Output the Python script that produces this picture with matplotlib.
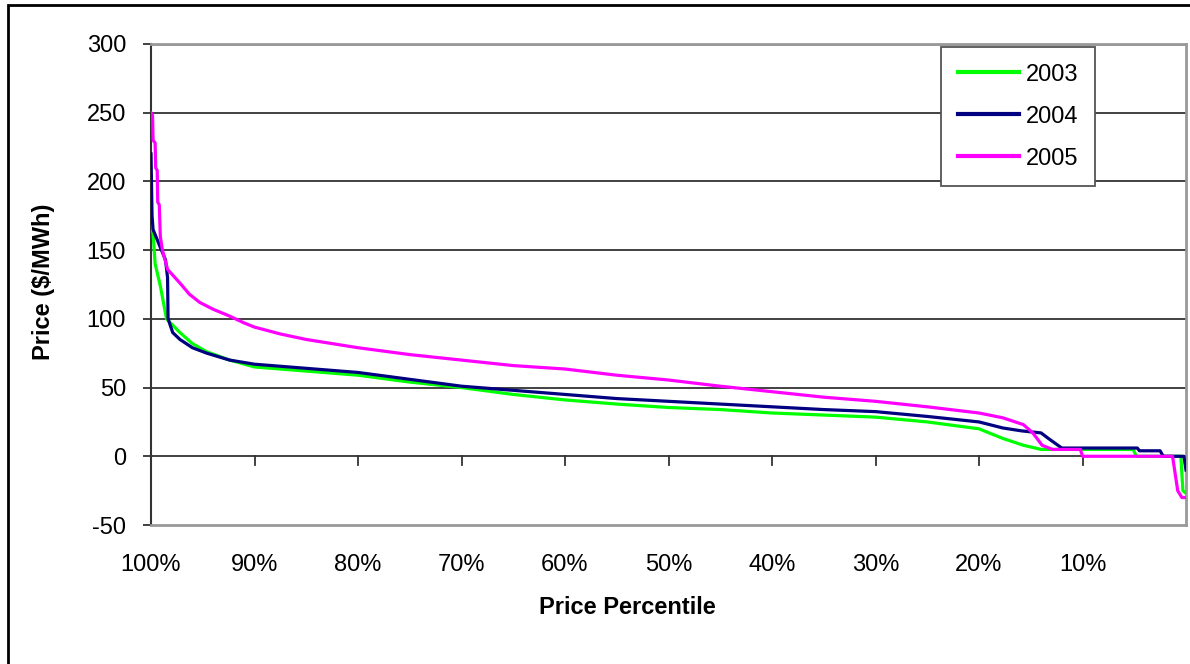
import matplotlib

matplotlib.use("Agg")
import matplotlib.pyplot as plt  # noqa: E402
from matplotlib.patches import Rectangle  # noqa: E402

plt.rcParams["font.family"] = ["Liberation Sans", "DejaVu Sans"]
plt.rcParams["axes.unicode_minus"] = False

# Price duration curves (percentile -> $/MWh)
pct_2003 = [100, 99.8, 99.6, 99.1, 98.9, 98.5, 97.2, 96, 94.6, 92.4, 90, 85, 80, 75,
            70, 65, 60, 55, 50, 45, 40, 35, 30, 25, 20, 17.7, 15.7, 14, 10, 5.1, 4.8,
            0.5, 0.3, 0]
price_2003 = [170, 162, 140, 124, 116, 100, 90, 82, 76, 70, 65, 62, 59, 54,
              50, 45, 41, 38, 35.5, 34, 31.5, 30, 28.5, 25, 20, 13, 8, 5, 5, 5, 0,
              0, -25, -27]

pct_2004 = [100, 99.9, 99.8, 99.1, 98.6, 98.4, 98.35, 97.9, 97.2, 96, 94.6, 92.4, 90,
            85, 80, 75, 70, 65, 60, 55, 50, 45, 40, 35, 30, 25, 20, 17.7, 15.9, 14.0,
            13.3, 12.0, 4.7, 4.5, 2.5, 2.2, 0.2, 0]
price_2004 = [220, 175, 165, 152, 143, 130, 100, 90, 85, 79, 75, 70, 67,
              64, 61, 56, 51, 48, 45, 42, 40, 38, 36, 34, 32.5, 29, 25, 20.6, 18.5, 17,
              13, 6, 6, 4, 4, 0, 0, -10]

pct_2005 = [100, 99.85, 99.8, 99.6, 99.55, 99.4, 99.35, 99.2, 99.1, 98.9, 98.4, 97.8,
            97.2, 96.3, 95.3, 94, 92.4, 91, 90, 87.5, 85, 80, 75, 70, 65, 60, 55, 50,
            45, 40, 35, 30, 25, 20, 17.7, 15.7, 14.8, 13.9, 12.9, 10.2, 10, 1.3, 0.8,
            0.4, 0]
price_2005 = [250, 248, 230, 228, 210, 208, 185, 183, 160, 150, 136, 131,
              126, 118, 112, 107, 102, 97, 94, 89, 85, 79, 74, 70, 66, 63.5, 59, 55.5,
              51, 47, 43, 40, 36, 31.5, 28, 23, 17, 8, 5, 5, 0, 0, -25,
              -30, -30]

series = [("2003", pct_2003, price_2003, "#00ff00"),
          ("2004", pct_2004, price_2004, "#000080"),
          ("2005", pct_2005, price_2005, "#ff00ff")]

x_ticks = [100, 90, 80, 70, 60, 50, 40, 30, 20, 10]
x_tick_labels = ["100%", "90%", "80%", "70%", "60%", "50%", "40%", "30%", "20%", "10%"]
y_ticks = [-50, 0, 50, 100, 150, 200, 250, 300]

W, H = 1190, 664
fig = plt.figure(figsize=(W / 100, H / 100), dpi=100)
ax = fig.add_axes([151 / W, 1 - 525 / H, (1186 - 151) / W, (525 - 44) / H])

for name, pct, price, color in series:
    ax.plot(pct, price, color=color, lw=2.3, label=name, zorder=3)

ax.set_xlim(100, 0)
ax.set_ylim(-50, 300)

# horizontal gridlines, the zero line doubles as the category axis
for y in y_ticks[1:-1]:
    ax.axhline(y, color="#333333", lw=1.3, zorder=1)
ax.axhline(300, color="#999999", lw=2, zorder=1)

# x tick marks hang down from the zero line, labels sit below the plot
ax.set_xticks(x_ticks)
ax.set_xticklabels(x_tick_labels, fontsize=17)
ax.tick_params(axis="x", length=0, pad=21)
for t in x_ticks + [0]:
    ax.plot([t, t], [0, -6], color="#333333", lw=1.3, zorder=1, clip_on=False)

ax.set_yticks(y_ticks)
ax.tick_params(axis="y", labelsize=17, length=6, width=1.3, color="#333333", pad=12)

for side in ["top", "right", "bottom"]:
    ax.spines[side].set_color("#999999")
    ax.spines[side].set_linewidth(2)
ax.spines["left"].set_color("#333333")
ax.spines["left"].set_linewidth(1.5)

leg = ax.legend(loc="upper right", bbox_to_anchor=(1095 / W, 1 - 47 / H),
                bbox_transform=fig.transFigure, fontsize=17, frameon=True,
                fancybox=False, edgecolor="#555555", framealpha=1,
                handlelength=2.6, handletextpad=0.3, borderpad=0.7,
                labelspacing=0.85, borderaxespad=0)
leg.get_frame().set_linewidth(1.3)
for line in leg.get_lines():
    line.set_linewidth(3)

fig.text(627 / W, 1 - 607 / H, "Price Percentile", fontsize=17, fontweight="bold",
         ha="center", va="center")
fig.text(44 / W, 1 - 282 / H, "Price ($/MWh)", fontsize=17, fontweight="bold",
         ha="center", va="center", rotation=90)

# outer chart border
fig.patches.append(Rectangle((8 / W, -0.05), 1.1, 1 - 5 / H + 0.05, transform=fig.transFigure,
                             fill=False, edgecolor="black", lw=2))

fig.savefig("out.png", dpi=100, facecolor="white")
plt.close(fig)
